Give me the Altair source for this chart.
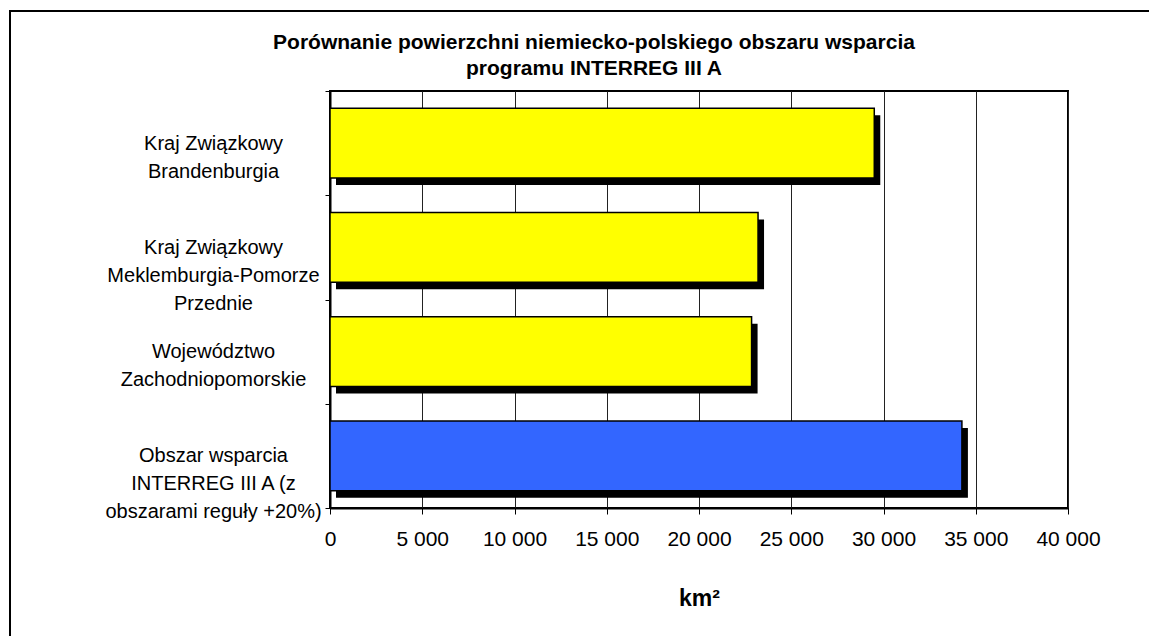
import altair as alt
import pandas as pd

categories = [
    "Kraj Związkowy\nBrandenburgia",
    "Kraj Związkowy\nMeklemburgia-Pomorze\nPrzednie",
    "Województwo\nZachodniopomorskie",
    "Obszar wsparcia\nINTERREG III A (z\nobszarami reguły +20%)",
]
values = [29500, 23200, 22850, 34250]
groups = ["land", "land", "land", "total"]
group_colors = ["#FFFF00", "#3366FF"]
x_ticks = [0, 5000, 10000, 15000, 20000, 25000, 30000, 35000, 40000]
title_lines = [
    "Porównanie powierzchni niemiecko-polskiego obszaru wsparcia",
    "programu INTERREG III A",
]
x_title = "km²"

FONT = "Liberation Sans"

df = pd.DataFrame({"category": categories, "value": values, "group": groups})

y_enc = alt.Y(
    "category:N",
    sort=None,
    scale=alt.Scale(paddingInner=0, paddingOuter=0),
    axis=alt.Axis(
        title=None,
        labelExpr="split(datum.label, '\\n')",
        labelAlign="center",
        labelBaseline="middle",
        labelPadding=112,
        labelFontSize=20,
        labelLineHeight=28,
        labelLimit=500,
        labelFont=FONT,
        labelColor="black",
        tickSize=5,
        tickColor="black",
        tickBand="extent",
        domainColor="black",
        domainWidth=2,
        grid=False,
    ),
)
x_enc = alt.X(
    "value:Q",
    scale=alt.Scale(domain=[0, 40000], nice=False),
    axis=alt.Axis(
        values=x_ticks,
        labelExpr="replace(format(datum.value, ','), ',', ' ')",
        labelFontSize=21,
        labelFont=FONT,
        labelColor="black",
        labelPadding=14,
        labelFlush=False,
        tickSize=6,
        tickColor="black",
        domainColor="black",
        domainWidth=2,
        grid=True,
        gridColor="#222222",
        gridWidth=1,
        title=x_title,
        titleFont=FONT,
        titleFontSize=23,
        titleFontWeight="bold",
        titleColor="black",
        titlePadding=38,
    ),
)

shadow = alt.Chart(df).mark_bar(
    color="black", height={"band": 0.67}, xOffset=6, x2Offset=4, yOffset=7, y2Offset=7
).encode(x=x_enc, y=y_enc)

bars = alt.Chart(df).mark_bar(
    height={"band": 0.67}, stroke="black", strokeWidth=1.5
).encode(
    x=x_enc,
    y=y_enc,
    color=alt.Color(
        "group:N",
        scale=alt.Scale(domain=["land", "total"], range=group_colors),
        legend=None,
    ),
)

one = pd.DataFrame({"a": [0]})
frame_top = alt.Chart(one).mark_rule(color="black", strokeWidth=2).encode(
    x=alt.value(-321), x2=alt.value(830), y=alt.value(-80)
)
frame_left = alt.Chart(one).mark_rule(color="black", strokeWidth=2).encode(
    x=alt.value(-320), y=alt.value(-81), y2=alt.value(560)
)

chart = (
    alt.layer(shadow, bars, frame_top, frame_left)
    .properties(
        width=738,
        height=417,
        autosize=alt.AutoSizeParams(type="none"),
        padding={"left": 322, "top": 83, "right": 81, "bottom": 128},
        background="white",
        title=alt.TitleParams(
            text=title_lines,
            font=FONT,
            fontSize=21,
            fontWeight="bold",
            color="black",
            anchor="middle",
            frame="group",
            dx=-105,
            offset=-70,
            lineHeight=26,
        ),
    )
    .configure_view(stroke="black", strokeWidth=2)
)

chart.save("out.html", embed_options={"renderer": "svg", "actions": False})
